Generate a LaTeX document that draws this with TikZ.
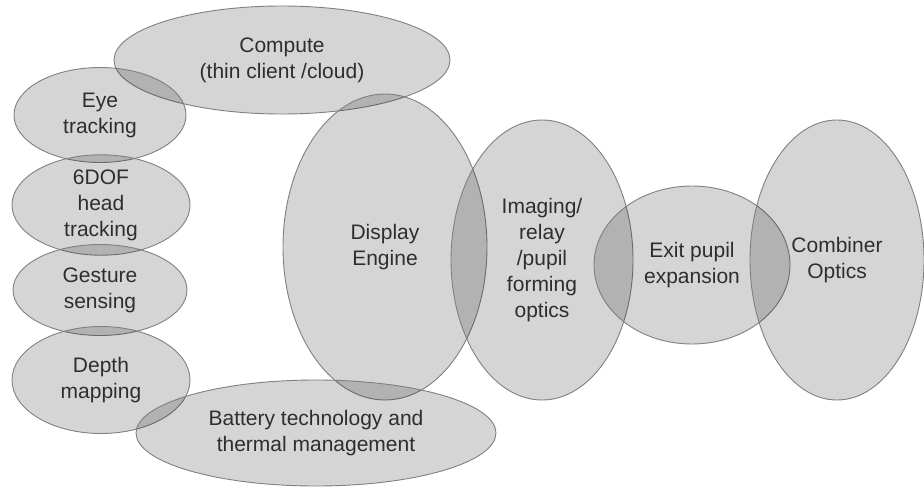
\documentclass[tikz,border=0pt]{standalone}
\usepackage{fontspec}
\setmainfont{Liberation Sans}
\usetikzlibrary{shapes.geometric}
\tikzset{
  blob/.style={ellipse, draw=black!50, line width=0.9pt, fill=black, fill opacity=0.165,
    text opacity=1, text=black!82, align=center, inner sep=0pt,
    font=\fontsize{21}{26}\selectfont},
}
\begin{document}
\begin{tikzpicture}[x=1pt,y=-1pt]
                \useasboundingbox (0,0) rectangle (924,490);
                %% compute
                \node[blob, minimum width=336pt, minimum height=108pt] (compute) at (282,60) {Compute\\(thin client /cloud)};
                %% sensing column
                \node[blob, minimum width=172pt, minimum height=95pt] (eye) at (100,115) {Eye\\tracking};
                \node[blob, minimum width=178pt, minimum height=96pt] (head) at (101,205) {6DOF\\head\\tracking};
                \node[blob, minimum width=174pt, minimum height=91pt] (gesture) at (100,290) {Gesture\\sensing};
                \node[blob, minimum width=178pt, minimum height=107pt] (depth) at (101,380) {Depth\\mapping};
                %% optical chain
                \node[blob, minimum width=204pt, minimum height=306pt] (engine) at (385,247) {Display\\Engine};
                \node[blob, minimum width=182pt, minimum height=280pt] (relay) at (542,260) {Imaging/\\relay\\/pupil\\forming\\optics};
                \node[blob, minimum width=196pt, minimum height=158pt] (exit) at (692,265) {Exit pupil\\expansion};
                \node[blob, minimum width=174pt, minimum height=280pt] (combiner) at (837,260) {Combiner\\Optics};
                %% battery
                \node[blob, minimum width=360pt, minimum height=106pt] (battery) at (316,433) {Battery technology and\\thermal management};
\end{tikzpicture}
\end{document}
